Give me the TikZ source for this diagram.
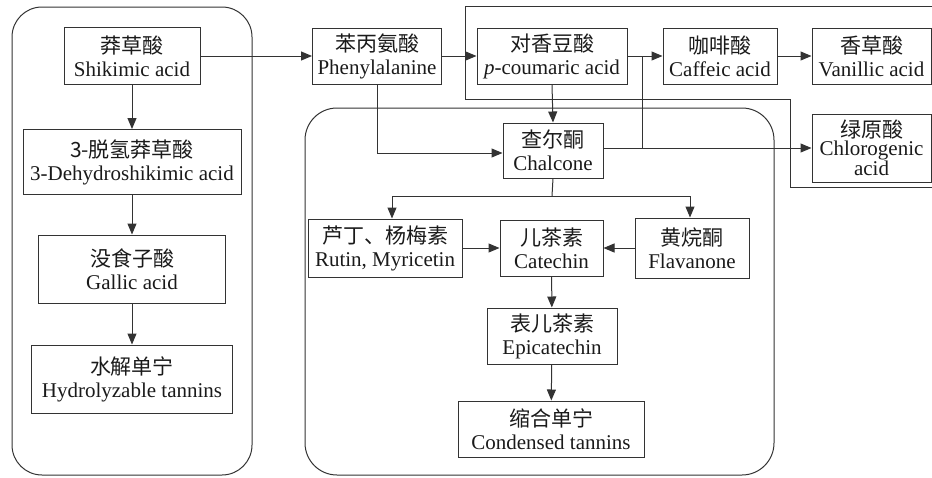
\documentclass[tikz,border=0pt]{standalone}
\usepackage{fontspec}
\setmainfont{Liberation Serif}
\newfontfamily\cjk{Noto Sans CJK SC}
\usetikzlibrary{arrows.meta}
\definecolor{ln}{HTML}{333333}
\definecolor{tx}{HTML}{1A1A1A}
\begin{document}
\begin{tikzpicture}[x=1pt,y=-1pt,color=ln,line width=1pt,
  bx/.style={draw=ln,line width=1pt,inner sep=0pt,align=center,text=tx,
    font=\fontsize{21}{23}\selectfont},
  arr/.style={-{Triangle[length=11pt,width=9pt]}},
  grp/.style={draw=ln,line width=1pt}]
\useasboundingbox (0,0) rectangle (932,477);
% group frames
\draw[grp,rounded corners=30pt] (12,7) rectangle (252,475);
\draw[grp,rounded corners=32pt] (305,108) rectangle (774,475);
\draw[grp] (932,6) -- (465,6) -- (465,99) -- (790,99) -- (790,187) -- (932,187);
% nodes left column
\node[bx,minimum width=136pt,minimum height=57pt] (shik) at (132,56) {{\cjk 莽草酸}\\Shikimic acid};
\node[bx,minimum width=218pt,minimum height=65pt] (dehy) at (132,162) {{\cjk 3-脱氢莽草酸}\\3-Dehydroshikimic acid};
\node[bx,minimum width=187pt,minimum height=68pt] (gall) at (132,269) {{\cjk 没食子酸}\\Gallic acid};
\node[bx,minimum width=201pt,minimum height=68pt] (hydr) at (132,379) {{\cjk 水解单宁}\\Hydrolyzable tannins};
% top row
\node[bx,minimum width=129pt,minimum height=56pt] (phe) at (377,56) {{\cjk 苯丙氨酸}\\Phenylalanine};
\node[bx,minimum width=150pt,minimum height=56pt] (cou) at (552,56) {{\cjk 对香豆酸}\\\textit{p}-coumaric acid};
\node[bx,minimum width=114pt,minimum height=56pt] (caf) at (720,56) {{\cjk 咖啡酸}\\Caffeic acid};
\node[bx,minimum width=119pt,minimum height=56pt] (van) at (871.5,56) {{\cjk 香草酸}\\Vanillic acid};
\node[bx,minimum width=119pt,minimum height=68pt,font=\fontsize{21}{18}\selectfont] (chlo) at (871.5,148) {{\cjk 绿原酸}\\Chlorogenic\\acid};
% middle group
\node[bx,minimum width=100pt,minimum height=55pt] (chal) at (553,150.5) {{\cjk 查尔酮}\\Chalcone};
\node[bx,minimum width=154pt,minimum height=58pt] (rut) at (385,248) {{\cjk 芦丁、杨梅素}\\Rutin, Myricetin};
\node[bx,minimum width=103pt,minimum height=56pt] (cat) at (551.5,248) {{\cjk 儿茶素}\\Catechin};
\node[bx,minimum width=114pt,minimum height=60pt] (fla) at (692,248) {{\cjk 黄烷酮}\\Flavanone};
\node[bx,minimum width=130pt,minimum height=56pt] (epi) at (552,336) {{\cjk 表儿茶素}\\Epicatechin};
\node[bx,minimum width=186pt,minimum height=56pt] (con) at (551,429) {{\cjk 缩合单宁}\\Condensed tannins};
% connectors
\draw[arr] (shik) -- (dehy);
\draw[arr] (dehy) -- (gall);
\draw[arr] (gall) -- (hydr);
\draw[arr] (shik.east) -- (phe.west);
\draw[arr] (phe.east) -- (cou.west);
\draw[arr] (cou.east) -- (caf.west);
\draw[arr] (caf.east) -- (van.west);
\draw[arr] (cou.south) -- (chal.north);
\draw[arr] (phe.south) |- ([yshift=-2.5pt]chal.west);
\draw[arr] (chal.east |- chlo.west) -- (chlo.west);
\coordinate (j1) at (642,56);
\coordinate (j2) at (642,148);
\draw (j1) -- (j2);
\coordinate (bus) at (552,196);
\draw (chal.south) -- (bus);
\draw[arr] (bus) -| ([xshift=7pt]rut.north);
\draw[arr] (bus) -| ([xshift=-2pt]fla.north);
\draw[arr] (rut.east) -- (cat.west);
\draw[arr] (fla.west) -- (cat.east);
\draw[arr] (cat) -- (epi);
\draw[arr] (epi) -- (con);
\end{tikzpicture}
\end{document}
